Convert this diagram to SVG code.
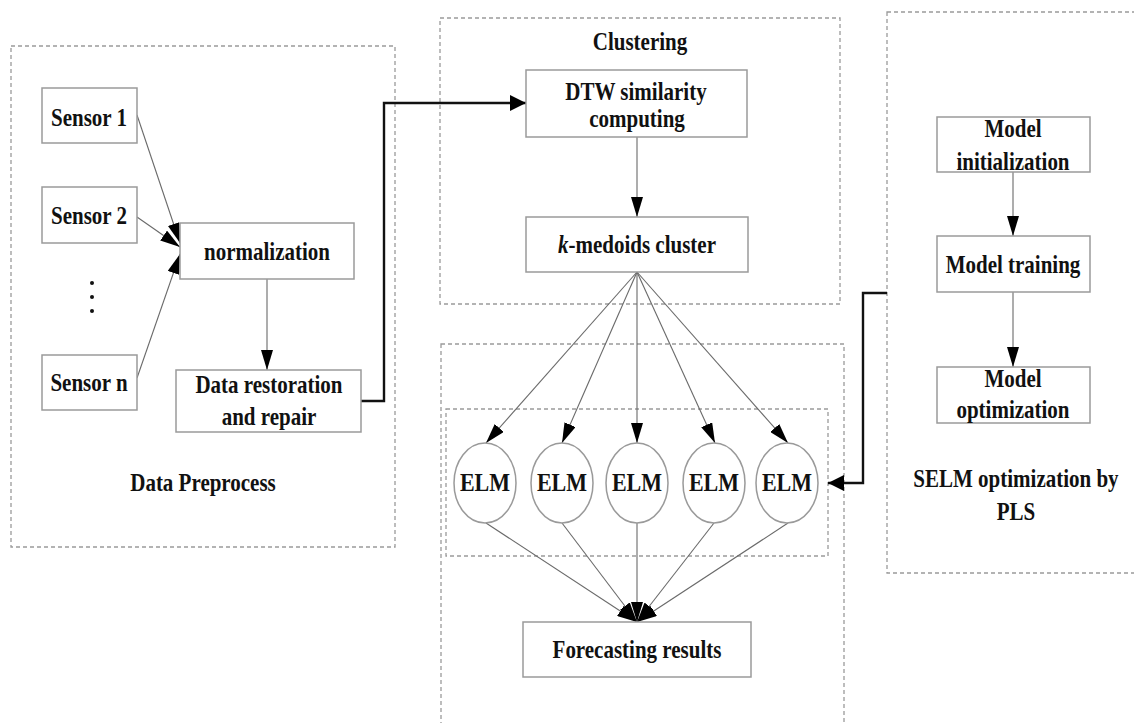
<svg xmlns="http://www.w3.org/2000/svg" width="1134" height="723" viewBox="0 0 1134 723">
<defs>
<style>
.grp{fill:none;stroke:#9a9a9a;stroke-width:1.3;stroke-dasharray:4 3}
.box{fill:#fff;stroke:#9a9a9a;stroke-width:1.5}
.t{font-family:"Liberation Serif","Times New Roman",serif;font-weight:bold;font-size:21px;fill:#111;text-anchor:middle}
.elm{font-size:22px}
.e{fill:none;stroke:#6a6a6a;stroke-width:1.1}
.ek{fill:none;stroke:#111;stroke-width:2.4}
</style>
<marker id="ah" markerUnits="userSpaceOnUse" markerWidth="20" markerHeight="12" refX="20" refY="6" orient="auto">
<path d="M0,0 L20,6 L0,12 Z" fill="#000"/>
</marker>
<marker id="ahk" markerUnits="userSpaceOnUse" markerWidth="16" markerHeight="16" refX="16" refY="8" orient="auto">
<path d="M0,0 L16,8 L0,16 Z" fill="#000"/>
</marker>
</defs>
<rect width="1134" height="723" fill="#fff"/>

<g id="groups">
<rect class="grp" x="11" y="46" width="384" height="501"/>
<rect class="grp" x="440" y="18" width="400" height="286"/>
<rect class="grp" x="441" y="344" width="403" height="390"/>
<rect class="grp" x="446" y="409" width="382" height="147"/>
<rect class="grp" x="887" y="12" width="260" height="561"/>
</g>

<g id="connectors">
<path class="e" d="M137,115 L180,243" marker-end="url(#ah)"/>
<path class="e" d="M137,217 L180,247" marker-end="url(#ah)"/>
<path class="e" d="M137,378 L180,254" marker-end="url(#ah)"/>
<path class="e" d="M267,279 L267,370" marker-end="url(#ah)"/>
<path class="ek" d="M361,401 H384 V103 H526" marker-end="url(#ahk)"/>
<path class="e" d="M637,137 L637,217" marker-end="url(#ah)"/>
<path class="e" d="M637,272 L486,443" marker-end="url(#ah)"/>
<path class="e" d="M637,272 L562,443" marker-end="url(#ah)"/>
<path class="e" d="M637,272 L637,443" marker-end="url(#ah)"/>
<path class="e" d="M637,272 L715,443" marker-end="url(#ah)"/>
<path class="e" d="M637,272 L788,443" marker-end="url(#ah)"/>
<path class="e" d="M486,523 L637,622" marker-end="url(#ah)"/>
<path class="e" d="M562,523 L637,622" marker-end="url(#ah)"/>
<path class="e" d="M637,523 L637,622" marker-end="url(#ah)"/>
<path class="e" d="M714,523 L637,622" marker-end="url(#ah)"/>
<path class="e" d="M788,523 L637,622" marker-end="url(#ah)"/>
<path class="e" d="M1013,172 L1013,236" marker-end="url(#ah)"/>
<path class="e" d="M1013,292 L1013,367" marker-end="url(#ah)"/>
<path class="ek" d="M887,293 H863 V483 H828" marker-end="url(#ahk)"/>
</g>

<g id="sensor1"><rect class="box" x="42" y="88" width="95" height="55"/><text class="t" x="89" y="126" transform="matrix(1 0 0 1.17 0 -21.42)">Sensor 1</text></g>
<g id="sensor2"><rect class="box" x="42" y="187" width="95" height="56"/><text class="t" x="89" y="224" transform="matrix(1 0 0 1.17 0 -38.08)">Sensor 2</text></g>
<g id="dots" fill="#111"><circle cx="92" cy="283" r="2"/><circle cx="92" cy="297" r="2"/><circle cx="92" cy="311" r="2"/></g>
<g id="sensorn"><rect class="box" x="42" y="355" width="95" height="55"/><text class="t" x="89" y="391" transform="matrix(1 0 0 1.17 0 -66.47)">Sensor n</text></g>
<g id="normalization"><rect class="box" x="180" y="223" width="174" height="56"/><text class="t" x="267" y="260" transform="matrix(1 0 0 1.17 0 -44.2)">normalization</text></g>
<g id="restoration"><rect class="box" x="176" y="370" width="185" height="62"/><text class="t" x="269" y="393" transform="matrix(1 0 0 1.17 0 -66.81)">Data restoration</text><text class="t" x="269" y="425" transform="matrix(1 0 0 1.17 0 -72.25)">and repair</text></g>
<g id="label-preprocess"><text class="t" x="203" y="491" transform="matrix(1 0 0 1.17 0 -83.47)">Data Preprocess</text></g>

<g id="label-clustering"><text class="t" x="640" y="50" transform="matrix(1 0 0 1.17 0 -8.5)">Clustering</text></g>
<g id="dtw"><rect class="box" x="526" y="70" width="221" height="67"/><text class="t" x="636" y="100" transform="matrix(1 0 0 1.17 0 -17)">DTW similarity</text><text class="t" x="637" y="127" transform="matrix(1 0 0 1.17 0 -21.59)">computing</text></g>
<g id="kmedoids"><rect class="box" x="526" y="217" width="222" height="55"/><text class="t" x="637" y="253" transform="matrix(1 0 0 1.17 0 -43.01)"><tspan font-style="italic">k</tspan>-medoids cluster</text></g>

<g id="elm1"><ellipse class="box" cx="485" cy="483" rx="31" ry="40"/><text class="t elm" x="485" y="491" transform="matrix(1 0 0 1.17 0 -83.47)">ELM</text></g>
<g id="elm2"><ellipse class="box" cx="562" cy="483" rx="31" ry="40"/><text class="t elm" x="562" y="491" transform="matrix(1 0 0 1.17 0 -83.47)">ELM</text></g>
<g id="elm3"><ellipse class="box" cx="637" cy="483" rx="31" ry="40"/><text class="t elm" x="637" y="491" transform="matrix(1 0 0 1.17 0 -83.47)">ELM</text></g>
<g id="elm4"><ellipse class="box" cx="714" cy="483" rx="31" ry="40"/><text class="t elm" x="714" y="491" transform="matrix(1 0 0 1.17 0 -83.47)">ELM</text></g>
<g id="elm5"><ellipse class="box" cx="787" cy="483" rx="31" ry="40"/><text class="t elm" x="787" y="491" transform="matrix(1 0 0 1.17 0 -83.47)">ELM</text></g>
<g id="forecast"><rect class="box" x="523" y="622" width="228" height="55"/><text class="t" x="637" y="658" transform="matrix(1 0 0 1.17 0 -111.86)">Forecasting results</text></g>

<g id="modelinit"><rect class="box" x="937" y="117" width="153" height="55"/><text class="t" x="1013" y="137" transform="matrix(1 0 0 1.17 0 -23.29)">Model</text><text class="t" x="1013" y="170" transform="matrix(1 0 0 1.17 0 -28.9)">initialization</text></g>
<g id="modeltrain"><rect class="box" x="937" y="236" width="153" height="56"/><text class="t" x="1013" y="273" transform="matrix(1 0 0 1.17 0 -46.41)">Model training</text></g>
<g id="modelopt"><rect class="box" x="937" y="367" width="153" height="56"/><text class="t" x="1013" y="387" transform="matrix(1 0 0 1.17 0 -65.79)">Model</text><text class="t" x="1013" y="418" transform="matrix(1 0 0 1.17 0 -71.06)">optimization</text></g>
<g id="label-selm"><text class="t" x="1016" y="487" transform="matrix(1 0 0 1.17 0 -82.79)">SELM optimization by</text><text class="t" x="1016" y="520" transform="matrix(1 0 0 1.17 0 -88.4)">PLS</text></g>
</svg>
